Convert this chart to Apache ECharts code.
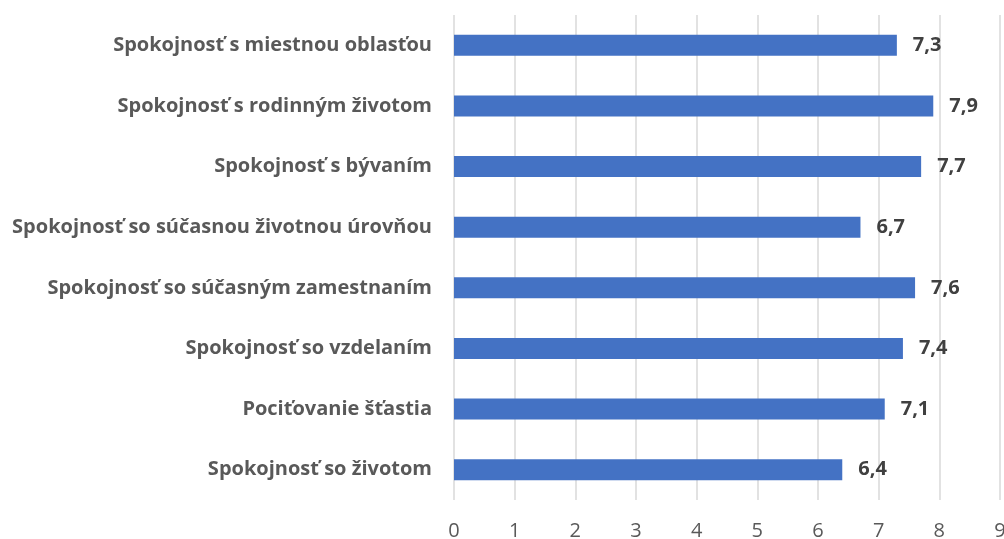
<!DOCTYPE html>
<html>
<head>
<meta charset="utf-8">
<script src="https://cdn.jsdelivr.net/npm/echarts@6/dist/echarts.min.js"></script>
<style>
    html, body { margin: 0; padding: 0; background: #fff; }
    #chart { width: 1004px; height: 539px; }
</style>
</head>
<body>
<div id="chart"></div>
<script>
// Data (top to bottom)
const categories = [
    'Spokojnosť s miestnou oblasťou',
    'Spokojnosť s rodinným životom',
    'Spokojnosť s bývaním',
    'Spokojnosť so súčasnou životnou úrovňou',
    'Spokojnosť so súčasným zamestnaním',
    'Spokojnosť so vzdelaním',
    'Pociťovanie šťastia',
    'Spokojnosť so životom'
];
const values = [7.3, 7.9, 7.7, 6.7, 7.6, 7.4, 7.1, 6.4];
const xTicks = [0, 9, 1]; // min, max, interval

const chart = echarts.init(document.getElementById('chart'));

const option = {
    animation: false,
    grid: {
        left: 454,
        right: 4,
        top: 15,
        bottom: 39,
        outerBoundsMode: 'none'
    },
    xAxis: {
        type: 'value',
        min: xTicks[0],
        max: xTicks[1],
        interval: xTicks[2],
        axisLine: { show: false },
        axisTick: { show: false },
        axisLabel: {
            color: '#595959',
            fontSize: 20,
            fontFamily: 'Open Sans',
            margin: 21
        },
        splitLine: {
            show: true,
            lineStyle: { color: '#d9d9d9', width: 1.5 }
        }
    },
    yAxis: {
        type: 'category',
        data: categories,
        inverse: true,
        axisLine: { show: false },
        axisTick: { show: false },
        axisLabel: {
            color: '#595959',
            fontSize: 20,
            fontWeight: 'bold',
            fontFamily: 'Open Sans',
            margin: 22
        }
    },
    series: [
        {
            type: 'bar',
            data: values,
            barWidth: 21,
            itemStyle: { color: '#4472c4' },
            label: {
                show: true,
                position: 'right',
                distance: 16,
                color: '#404040',
                fontSize: 20,
                fontWeight: 'bold',
                fontFamily: 'Open Sans',
                formatter: p => String(p.value).replace('.', ',')
            }
        }
    ]
};

chart.setOption(option);
</script>
</body>
</html>
